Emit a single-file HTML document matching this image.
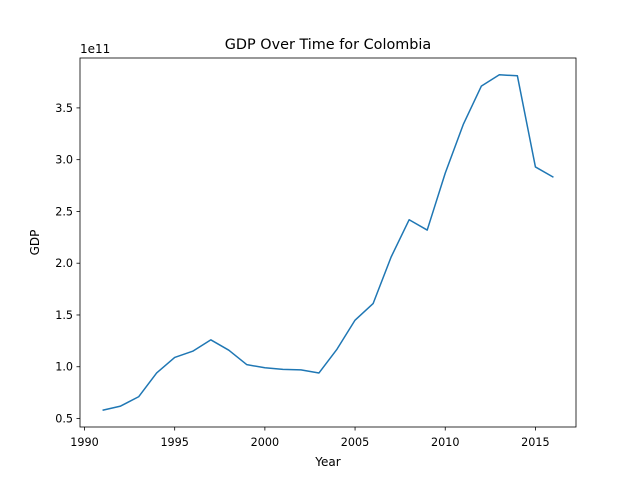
<!DOCTYPE html>
<html><head><meta charset="utf-8"><style>
body{margin:0;background:#fff}
svg text{font-family:"DejaVu Sans","Liberation Sans",sans-serif;fill:#000}
</style></head><body>
<svg id="chart" width="640" height="480" xmlns="http://www.w3.org/2000/svg">
<rect width="640" height="480" fill="#fff"/>
<text x="328" y="49" font-size="14.4" text-anchor="middle">GDP Over Time for Colombia</text>
<text x="328" y="466" font-size="12" text-anchor="middle">Year</text>
<text transform="translate(39,242.5) rotate(-90)" font-size="12" text-anchor="middle">GDP</text>
<text x="80" y="53" font-size="12">1e11</text>
<g id="ticks"></g>
<polyline id="line" fill="none" stroke="#1f77b4" stroke-width="1.5" stroke-linejoin="round"/>
<rect x="80" y="58" width="496" height="369" fill="none" stroke="#000" stroke-width="0.8"/>
</svg>
<script>
const years=[1991,1992,1993,1994,1995,1996,1997,1998,1999,2000,2001,2002,2003,2004,2005,2006,2007,2008,2009,2010,2011,2012,2013,2014,2015,2016];
const gdp=[0.58,0.62,0.71,0.94,1.09,1.15,1.26,1.16,1.02,0.99,0.975,0.97,0.94,1.17,1.45,1.61,2.06,2.42,2.32,2.87,3.34,3.71,3.82,3.81,2.93,2.83];
const xTicks=[1990,1995,2000,2005,2010,2015];
const yTicks=[0.5,1.0,1.5,2.0,2.5,3.0,3.5];
const L=80,R=576,T=58,B=427;
const xmin=Math.min(...years),xmax=Math.max(...years),xm=(xmax-xmin)*0.05;
const ymin=Math.min(...gdp),ymax=Math.max(...gdp),ym=(ymax-ymin)*0.05;
const x=v=>L+(v-(xmin-xm))/((xmax+xm)-(xmin-xm))*(R-L);
const y=v=>B-(v-(ymin-ym))/((ymax+ym)-(ymin-ym))*(B-T);
const NS="http://www.w3.org/2000/svg",g=document.getElementById('ticks');
function mk(t,a){const e=document.createElementNS(NS,t);for(const k in a)e.setAttribute(k,a[k]);g.appendChild(e);return e;}
xTicks.forEach(v=>{
 const l=mk('line',{x1:x(v),x2:x(v),y1:B,y2:B+3.5,stroke:'#000','stroke-width':0.8});
 
 
 const t=mk('text',{x:x(v),y:B+19,'font-size':11.2,'text-anchor':'middle'});t.textContent=v;
 
 
});
yTicks.forEach(v=>{
 const l=mk('line',{x1:L-3.5,x2:L,y1:y(v),y2:y(v),stroke:'#000','stroke-width':0.8});
 
 
 const t=mk('text',{x:L-7,y:y(v)+4,'font-size':11.2,'text-anchor':'end'});t.textContent=v.toFixed(1);
 
 
});
document.getElementById('line').setAttribute('points',years.map((v,i)=>x(v)+','+y(gdp[i])).join(' '));
</script>
</body></html>
